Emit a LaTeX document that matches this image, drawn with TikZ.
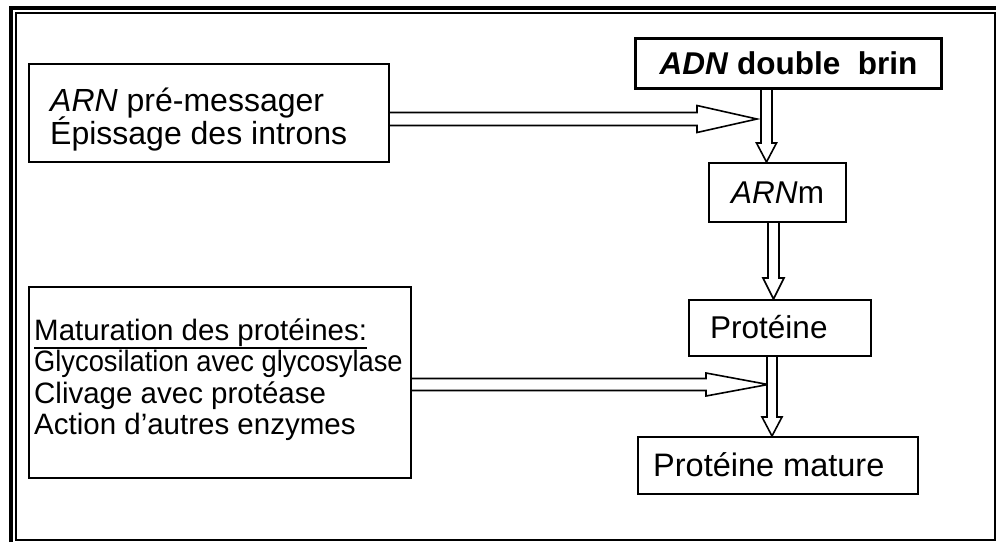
\documentclass[tikz,border=0pt]{standalone}
\usepackage{fontspec}
\setmainfont{Liberation Sans}
\usetikzlibrary{calc}
\tikzset{
  box/.style={draw, line width=2.2pt, rectangle, inner sep=0pt, anchor=north west},
  txt/.style={inner sep=0pt, font=\fontsize{31.5}{36}\selectfont},
  mtxt/.style={inner sep=0pt, anchor=base west, font=\fontsize{29.5}{34}\selectfont},
  blockarrow/.style={draw, line width=1.6pt, fill=white, line join=miter},
}
\newcommand\blockH[5]{%
  \draw[blockarrow] ($(#1)+(0,-#3)$) -- ($(#2)+(-#5,-#3)$) -- ($(#2)+(-#5,-#4)$) -- (#2) -- ($(#2)+(-#5,#4)$) -- ($(#2)+(-#5,#3)$) -- ($(#1)+(0,#3)$);}
\newcommand\blockV[5]{%
  \draw[blockarrow] ($(#1)+(-#3,0)$) -- ($(#2)+(-#3,-#5)$) -- ($(#2)+(-#4,-#5)$) -- (#2) -- ($(#2)+(#4,-#5)$) -- ($(#2)+(#3,-#5)$) -- ($(#1)+(#3,0)$);}
\begin{document}
\begin{tikzpicture}[x=1pt,y=-1pt]
\useasboundingbox (0,0) rectangle (996,542);
% frame
\draw[line width=4.5pt] (11,542) -- (11,8) -- (996,8);
\draw[line width=2pt] (15.5,13) rectangle (994.5,540);
% boxes
\node[box, minimum width=360pt, minimum height=98pt] (arn) at (28,63) {};
\node[box, line width=3pt, minimum width=306pt, minimum height=50pt] (adn) at (634,37) {};
\node[box, minimum width=137pt, minimum height=59pt] (arnm) at (708,162) {};
\node[box, minimum width=182pt, minimum height=56pt] (prot) at (688,299) {};
\node[box, minimum width=382pt, minimum height=191pt] (mat) at (28,286) {};
\node[box, minimum width=280pt, minimum height=57pt] (protm) at (637,436) {};
% texts
\node[txt, anchor=base west, font=\fontsize{32}{36}\selectfont] (arn1) at (50,111) {\itshape ARN\/\upshape{} pré-messager};
\node[txt, anchor=base west, font=\fontsize{32}{36}\selectfont] (arn2) at (50,144) {Épissage des introns};
\node[txt, font=\fontsize{31.5}{36}\selectfont\bfseries] (adnT) at (adn.center) {\itshape ADN\/\upshape{} double\ \ brin};
\node[txt] (arnmT) at (arnm.center) {\itshape ARN\/\upshape m};
\node[txt, anchor=west] (protT) at (710,327) {Protéine};
\node[mtxt] (mat1) at (34,340) {Maturation des protéines:};
\draw[line width=2.2pt] ($(mat1.base west)+(0,8)$) -- ($(mat1.base east)+(0,8)$);
\node[mtxt] (mat2) at (34,371.5) {\scalebox{0.925}[1]{Glycosilation avec glycosylase}};
\node[mtxt] (mat3) at (34,403) {Clivage avec protéase};
\node[mtxt] (mat4) at (34,434.5) {Action d’autres enzymes};
\node[txt, anchor=west, font=\fontsize{32.5}{36}\selectfont] (protmT) at (653,464.5) {Protéine mature};
% arrows
\coordinate (h1t) at (757,119);
\blockH{arn.east |- h1t}{h1t}{6.5}{13.5}{60}
\coordinate (v1t) at (766.5,162);
\blockV{adn.south -| v1t}{v1t}{5.5}{10}{19}
\coordinate (v2t) at (773.5,299);
\blockV{arnm.south -| v2t}{v2t}{5.5}{10.5}{21}
\coordinate (h2t) at (768,384.5);
\blockH{mat.east |- h2t}{h2t}{6}{11.5}{62}
\coordinate (v3t) at (772,436);
\blockV{prot.south -| v3t}{v3t}{5}{10}{19}
\end{tikzpicture}
\end{document}
